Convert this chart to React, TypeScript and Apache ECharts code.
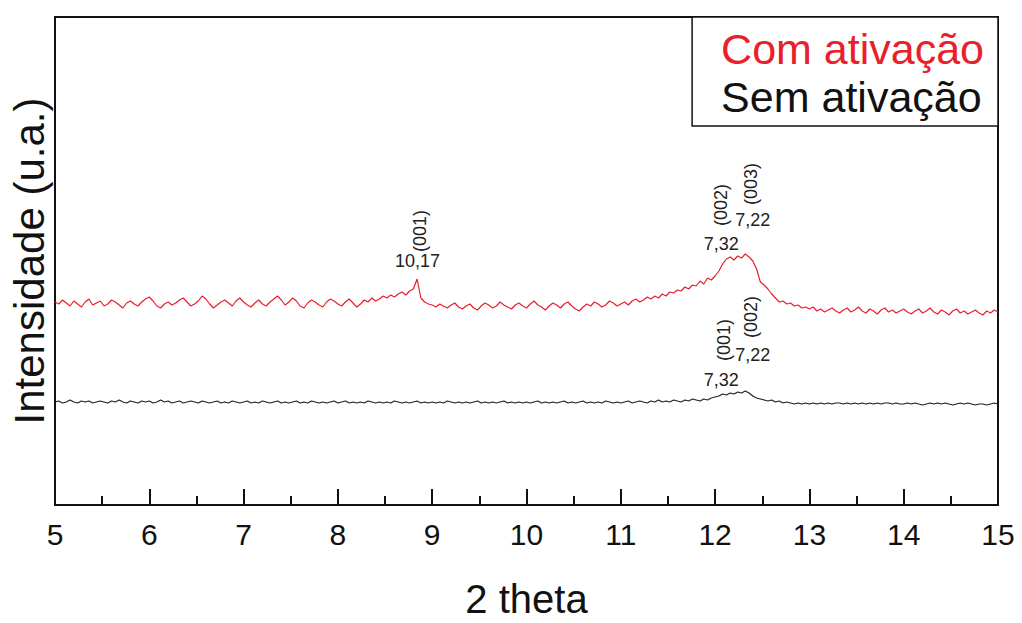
import React, { useEffect, useRef } from "react";
import * as echarts from "echarts";

// 2θ sampling: from 5 to 15 in steps of 0.04
const thetaStart = 5;
const thetaStep = 0.04;

// Intensity (arbitrary units) – "Com ativação" (red)
const comAtivacao = [
  // 5.00 - 5.96
  203, 201, 205, 202, 199, 204, 201, 198, 203, 206, 200, 202, 204, 199, 201, 205, 203, 200, 197, 202, 204, 201, 199, 203, 206,
  // 6.00 - 6.96
  208, 204, 199, 197, 201, 203, 200, 202, 205, 207, 203, 199, 201, 204, 209, 206, 201, 197, 200, 203, 205, 202, 199, 204, 207,
  // 7.00 - 7.96
  203, 200, 198, 202, 205, 201, 199, 203, 206, 209, 205, 200, 203, 207, 204, 199, 197, 202, 205, 203, 200, 198, 203, 206, 204,
  // 8.00 - 8.96
  201, 199, 203, 206, 202, 198, 201, 205, 203, 207, 204, 206, 209, 207, 210, 208, 211, 213, 210, 214, 216, 226, 207, 203, 201,
  // 9.00 - 9.96
  200, 198, 201, 199, 197, 200, 202, 198, 196, 199, 201, 197, 195, 199, 202, 200, 197, 199, 203, 200, 198, 196, 200, 202, 199,
  // 10.00 - 10.96
  197, 201, 204, 200, 198, 195, 199, 202, 200, 197, 201, 203, 199, 196, 194, 198, 201, 199, 203, 201, 198, 200, 204, 202, 199,
  // 11.00 - 11.96
  201, 203, 200, 204, 206, 203, 205, 208, 206, 209, 207, 211, 209, 213, 212, 215, 214, 218, 216, 220, 219, 224, 221, 227, 225,
  // 12.00 - 12.96
  229, 234, 241, 246, 248, 245, 249, 247, 251, 248, 244, 236, 223, 220, 216, 211, 207, 203, 204, 201, 202, 199, 200, 197, 198,
  // 13.00 - 13.96
  196, 198, 194, 196, 193, 195, 197, 194, 192, 195, 197, 193, 195, 198, 194, 192, 196, 194, 191, 195, 197, 193, 195, 192, 194,
  // 14.00 - 15.00
  196, 193, 191, 194, 196, 192, 194, 197, 193, 191, 195, 193, 190, 194, 196, 192, 194, 191, 193, 195, 192, 190, 194, 192, 195, 193,
];

// Intensity (arbitrary units) – "Sem ativação" (black)
const semAtivacao = [
  // 5.00 - 5.96
  103, 104, 102, 103, 105, 103, 102, 104, 103, 104, 102, 103, 104, 103, 102, 104, 103, 105, 103, 102, 104, 103, 102, 104, 103,
  // 6.00 - 6.96
  104, 102, 103, 105, 103, 104, 102, 103, 104, 102, 103, 104, 103, 102, 104, 103, 102, 103, 104, 102, 103, 102, 104, 103, 102,
  // 7.00 - 7.96
  103, 104, 102, 103, 102, 104, 103, 102, 103, 104, 102, 103, 102, 103, 104, 102, 103, 102, 104, 103, 102, 103, 102, 103, 104,
  // 8.00 - 8.96
  102, 103, 104, 102, 103, 102, 103, 102, 104, 103, 102, 103, 102, 103, 102, 104, 103, 102, 103, 102, 103, 104, 102, 103, 102,
  // 9.00 - 9.96
  103, 102, 103, 102, 104, 103, 102, 103, 102, 103, 102, 103, 104, 102, 103, 102, 103, 102, 103, 104, 102, 103, 102, 103, 102,
  // 10.00 - 10.96
  103, 102, 103, 104, 102, 103, 102, 103, 102, 103, 104, 102, 103, 102, 103, 104, 102, 103, 102, 103, 102, 104, 103, 102, 103,
  // 11.00 - 11.96
  102, 103, 104, 102, 103, 104, 103, 102, 104, 103, 105, 103, 104, 103, 105, 104, 103, 105, 104, 106, 105, 104, 106, 105, 107,
  // 12.00 - 12.96
  108, 109, 111, 110, 112, 111, 113, 112, 114, 112, 109, 107, 106, 105, 104, 105, 103, 104, 102, 103, 102, 101, 102, 101, 102,
  // 13.00 - 13.96
  101, 102, 101, 102, 101, 102, 101, 102, 102, 101, 102, 101, 102, 101, 102, 101, 102, 101, 102, 101, 102, 102, 101, 102, 101,
  // 14.00 - 15.00
  101, 102, 101, 102, 101, 100, 101, 102, 101, 102, 101, 102, 101, 100, 101, 102, 101, 102, 101, 100, 101, 101, 100, 101, 102, 101,
];

const seriesNames = ["Com ativação", "Sem ativação"];
const xTicks = [5, 6, 7, 8, 9, 10, 11, 12, 13, 14, 15];

// Peak annotations: [2θ, intensity, text, rotated]
const redNotes: [number, number, string, boolean][] = [
  [8.866, 274, "(001)", true],
  [8.845, 244, "10,17", false],
  [12.066, 300, "(002)", true],
  [12.383, 321, "(003)", true],
  [12.4, 285, "7,22", false],
  [12.066, 261, "7,32", false],
];
const blackNotes: [number, number, string, boolean][] = [
  [12.098, 165, "(001)", true],
  [12.383, 188, "(002)", true],
  [12.4, 150, "7,22", false],
  [12.066, 125, "7,32", false],
];

const FONT = "'Liberation Sans', Arial, sans-serif";

function toPairs(vals: number[]) {
  return vals.map((v, i) => [+(thetaStart + i * thetaStep).toFixed(2), v]);
}

function notesToMarks(notes: [number, number, string, boolean][]) {
  return notes.map(([x, y, t, rot]) => ({
    coord: [x, y],
    value: t,
    symbol: "circle",
    symbolSize: 0,
    label: {
      show: true,
      position: "inside",
      formatter: t,
      rotate: rot ? 90 : 0,
      color: "#222",
      fontSize: 18,
      fontFamily: FONT,
    },
  }));
}

export default function App() {
  const ref = useRef<HTMLDivElement>(null);
  useEffect(() => {
    document.body.style.margin = "0";
    const chart = echarts.init(ref.current!, null, { renderer: "svg" });
    chart.setOption({
      animation: false,
      backgroundColor: "#ffffff",
      grid: {
        left: 55,
        right: 24,
        top: 17,
        bottom: 118,
        outerBoundsMode: "none",
        containLabel: false,
        show: true,
        borderColor: "#111",
        borderWidth: 2,
      },
      legend: {
        orient: "vertical",
        right: 24,
        top: 17,
        padding: [10, 14, 8, 24],
        itemGap: 5,
        itemWidth: 0,
        itemHeight: 0,
        icon: "none",
        borderColor: "#111",
        borderWidth: 1.5,
        backgroundColor: "#fff",
        selectedMode: false,
        data: [
          { name: seriesNames[0], textStyle: { color: "#e8202a" } },
          { name: seriesNames[1], textStyle: { color: "#111" } },
        ],
        textStyle: { fontSize: 43, fontFamily: FONT, padding: [0, 0, 0, 0] },
      },
      xAxis: {
        type: "value",
        min: 5,
        max: 15,
        interval: 1,
        name: "2 theta",
        nameLocation: "middle",
        nameGap: 74,
        nameTextStyle: { fontSize: 40, lineHeight: 40, color: "#111", fontFamily: FONT },
        axisLine: { show: true, lineStyle: { color: "#111", width: 2 } },
        axisTick: { show: true, inside: true, length: 16, lineStyle: { color: "#111", width: 2 } },
        minorTick: { show: true, splitNumber: 2, length: 9, lineStyle: { color: "#111", width: 2 } },
        splitLine: { show: false },
        axisLabel: {
          fontSize: 30,
          color: "#111",
          margin: 14,
          fontFamily: FONT,
          formatter: (v: number) => (xTicks.includes(v) ? String(v) : ""),
        },
      },
      yAxis: {
        type: "value",
        min: 0,
        max: 488,
        name: "Intensidade (u.a.)",
        nameLocation: "middle",
        nameGap: 5,
        nameTextStyle: { fontSize: 42, color: "#111", fontFamily: FONT },
        axisLine: { show: true, lineStyle: { color: "#111", width: 2 } },
        axisTick: { show: false },
        axisLabel: { show: false },
        splitLine: { show: false },
      },
      series: [
        {
          name: seriesNames[0],
          type: "line",
          data: toPairs(comAtivacao),
          showSymbol: false,
          symbol: "none",
          lineStyle: { color: "#e8202a", width: 1.2 },
          itemStyle: { color: "#e8202a" },
          markPoint: { silent: true, data: notesToMarks(redNotes) },
        },
        {
          name: seriesNames[1],
          type: "line",
          data: toPairs(semAtivacao),
          showSymbol: false,
          symbol: "none",
          lineStyle: { color: "#222", width: 1.2 },
          itemStyle: { color: "#222" },
          markPoint: { silent: true, data: notesToMarks(blackNotes) },
        },
      ],
    });
    return () => chart.dispose();
  }, []);
  return <div ref={ref} style={{ width: 1022, height: 623 }} />;
}
